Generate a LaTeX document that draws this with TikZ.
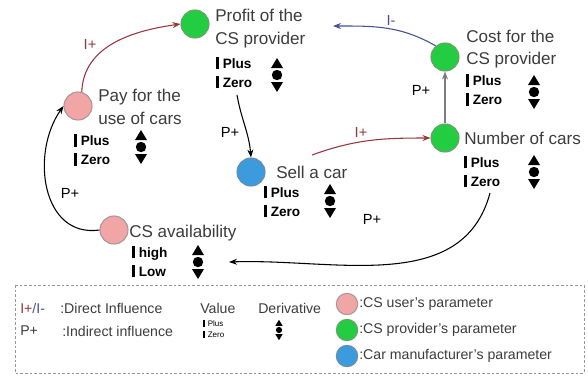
\documentclass[tikz,border=0pt]{standalone}
\usepackage{fontspec}
\setmainfont{Liberation Sans}
\usetikzlibrary{arrows.meta}

\definecolor{txtgray}{RGB}{60,60,60}
\definecolor{infred}{RGB}{150,55,60}
\definecolor{infblue}{RGB}{70,80,150}
\definecolor{linkgray}{RGB}{125,125,125}
\definecolor{userpink}{RGB}{242,165,165}
\definecolor{userpinkedge}{RGB}{170,150,150}
\definecolor{provgreen}{RGB}{35,205,65}
\definecolor{provgreenedge}{RGB}{110,160,110}
\definecolor{makerblue}{RGB}{60,155,220}
\definecolor{makerblueedge}{RGB}{110,140,170}
\definecolor{boxgray}{RGB}{150,150,150}

\newcommand{\vbar}{\rule[-1pt]{2.4pt}{9.5pt}\hspace{2.5pt}}
\newcommand{\tinybar}{\rule[-0.5pt]{1.4pt}{5.5pt}\hspace{2pt}}

\tikzset{
  param/.style={circle, minimum size=21pt, inner sep=0pt, line width=0.8pt},
  userp/.style={param, fill=userpink, draw=userpinkedge},
  provp/.style={param, fill=provgreen, draw=provgreenedge},
  makerp/.style={param, fill=makerblue, draw=makerblueedge},
  lbl/.style={font=\fontsize{12.8}{16.9}\selectfont, text=txtgray, inner sep=0pt, align=left, anchor=west},
  vals/.style={font=\bfseries\fontsize{10.2}{14.25}\selectfont, inner sep=0pt, align=left, anchor=west},
  legtxt/.style={font=\fontsize{10.6}{13}\selectfont, text=txtgray, inner sep=0pt, anchor=west},
  link/.style={line width=0.8pt, -{Stealth[length=6pt,width=4.5pt]}},
  elbl/.style={font=\fontsize{11}{13}\selectfont, inner sep=0pt},
  deriv/.pic={
    \fill (-6,-7) -- (6,-7) -- (0,-17) -- cycle;
    \fill (0,0) circle[radius=3.9pt];
    \fill (-6,7) -- (6,7) -- (0,17) -- cycle;
  }
}

\begin{document}
\begin{tikzpicture}[x=0.75pt,y=-0.75pt]
\useasboundingbox (0,0) rectangle (588,376);

% parameters of the model
\node[provp] (profit) at (195,24) {};
\node[lbl] (profittxt) at (215,28.5) {Profit of the\\CS provider};
\node[vals] (profitval) at (216,72.5) {\vbar Plus\\\vbar Zero};
\pic at (277,75) {deriv};

\node[userp] (pay) at (78,106) {};
\node[lbl] (paytxt) at (98,107) {Pay for the\\use of cars};
\node[vals] (payval) at (74,150) {\vbar Plus\\\vbar Zero};
\pic at (141,147) {deriv};

\node[makerp] (sell) at (251,172) {};
\node[lbl] (selltxt) at (276,172) {Sell a car};
\node[vals] (sellval) at (264,201.5) {\vbar Plus\\\vbar Zero};
\pic at (330,201) {deriv};

\node[provp] (cost) at (445,57) {};
\node[lbl] (costtxt) at (466,49) {Cost for the\\CS provider};
\node[vals] (costval) at (466,90) {\vbar Plus\\\vbar Zero};
\pic at (534,92) {deriv};

\node[provp] (number) at (445,138) {};
\node[lbl] (numbertxt) at (464,138) {Number of cars};
\node[vals] (numberval) at (464,171.5) {\vbar Plus\\\vbar Zero};
\pic at (534,172) {deriv};

\node[userp] (avail) at (114,230) {};
\node[lbl] (availtxt) at (129,233) {CS availability};
\node[vals] (availval) at (132,261.5) {\vbar high\\\vbar Low};
\pic at (198,262) {deriv};

% free ends of connectors
\coordinate (costend) at (333,26);
\coordinate (availend) at (229,262);
\coordinate (sellstart) at (312,155);
\coordinate (profitstart) at (237,95);
\coordinate (numberstart) at (490,193);

% influences
\draw[link, infred] (pay.75) to[out=88,in=188] (profit.west);
\node[elbl, text=infred] (l1) at (90,44) {I+};

\draw[link, black] (profitstart) to[out=-80,in=95] (sell.north);
\node[elbl] (l2) at (230,132) {P+};

\draw[link, infred] (sellstart) to[out=20,in=180] (number.west);
\node[elbl, text=infred] (l3) at (361,132) {I+};

\draw[link, linkgray] (number.north) -- (cost.south);
\node[elbl] (l4) at (421,90) {P+};

\draw[link, infblue] (cost.130) to[out=150,in=0] (costend);
\node[elbl, text=infblue] (l5) at (391,20) {I-};

\draw[link, black] (numberstart) to[out=-105,in=2] (availend);
\node[elbl] (l6) at (372,219) {P+};

\draw[link, black] (avail.west) to[out=188,in=235,looseness=1.15] (pay.west);
\node[elbl] (l7) at (70,193) {P+};

% legend
\draw[boxgray, dash pattern=on 2pt off 1.5pt, line width=0.6pt] (15,285) rectangle (584,373);
\node[legtxt] (lgI) at (20,308) {\textcolor{infred}{I+}\textcolor{infblue}{/I-}};
\node[legtxt] (lgIt) at (60,308) {:Direct Influence};
\node[legtxt] (lgP) at (20,331) {P+};
\node[legtxt] (lgPt) at (62,331) {:Indirect influence};
\node[legtxt] (lgV) at (200,308) {Value};
\node[legtxt] (lgD) at (258,308) {Derivative};
\node[font=\fontsize{6}{8}\selectfont, inner sep=0pt, align=left, anchor=west] (lgVal) at (203,329) {\tinybar Plus\\\tinybar Zero};
\pic[scale=0.6] at (279,330) {deriv};

\node[userp, minimum size=16pt] (lgU) at (347,304) {};
\node[legtxt] (lgUt) at (359,304) {:CS user’s parameter};
\node[provp, minimum size=16pt] (lgG) at (347,330) {};
\node[legtxt] (lgGt) at (359,330) {:CS provider’s parameter};
\node[makerp, minimum size=16pt] (lgB) at (347,356) {};
\node[legtxt] (lgBt) at (359,356) {:Car manufacturer’s parameter};
\end{tikzpicture}
\end{document}
